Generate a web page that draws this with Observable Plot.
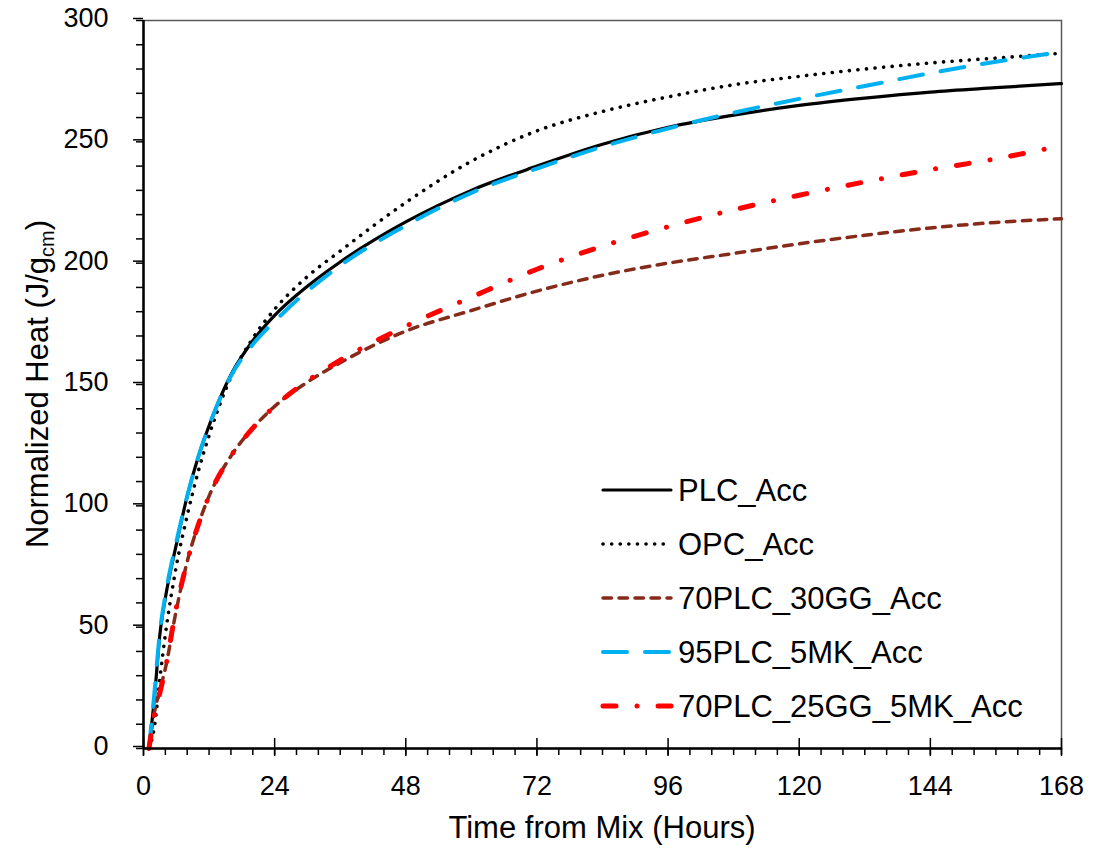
<!DOCTYPE html>
<html><head><meta charset="utf-8">
<script src="https://cdn.jsdelivr.net/npm/d3@7"></script>
<script src="https://cdn.jsdelivr.net/npm/@observablehq/plot@0.6"></script>
<style>
body{margin:0;background:#fff;}
#chart{position:relative;width:1115px;height:849px;}
</style>
</head><body><div id="chart"></div>
<script>
// ---- data ----
const hours    = [1, 2, 3, 4, 6, 8, 10, 12, 16, 20, 24, 30, 36, 48, 60, 72, 84, 96, 108, 120, 132, 144, 156, 168];
const hoursRed = [1, 2, 3, 4, 6, 8, 10, 12, 16, 20, 24, 30, 36, 48, 60, 72, 84, 96, 108, 120, 132, 144, 156, 165];
const plcAcc       = [0, 21, 47, 62, 84, 104, 120, 133, 154, 168, 178.5, 190.5, 200.5, 217, 230, 240, 249, 256, 261, 265, 268, 270.5, 272.3, 274];
const opcAcc       = [0, 9, 29, 47, 75, 96, 114, 129, 153, 169, 181, 194.5, 205, 225, 242, 254.5, 262.5, 268.5, 273.5, 277, 280, 282.5, 284.5, 286.5];
const plc30ggAcc   = [0, 15, 24, 33, 57, 77, 92, 104, 120.5, 132, 141, 151, 159, 172, 180.5, 188.5, 195, 200, 204, 208, 211.5, 214.5, 216.8, 218.3];
const plc5mkAcc    = [0, 23, 48, 63, 85, 104, 120, 133, 153.5, 166.5, 176, 188.5, 199, 215.5, 229, 239, 248, 255.5, 262, 267.7, 273, 278.3, 283, 287];
const plc25gg5mkAcc= [0, 14, 23, 33, 58, 77, 92, 104, 120.5, 132, 141, 151.5, 160, 174, 186, 197.5, 207, 215, 222, 228, 233.5, 238.5, 243, 247];
const seriesNames = ["PLC_Acc", "OPC_Acc", "70PLC_30GG_Acc", "95PLC_5MK_Acc", "70PLC_25GG_5MK_Acc"];
const xMajorTicks = [0, 24, 48, 72, 96, 120, 144, 168];
const yMajorTicks = [0, 50, 100, 150, 200, 250, 300];
const xMinorTicks = d3.range(0, 169, 4);
const yMinorTicks = d3.range(0, 301, 10);

// ---- build table ----
const seriesData = [
  [hours, plcAcc], [hours, opcAcc], [hours, plc30ggAcc], [hours, plc5mkAcc], [hoursRed, plc25gg5mkAcc]
];
const rows = [];
seriesNames.forEach((name, i) => {
  const [hs, vs] = seriesData[i];
  hs.forEach((h, j) => rows.push({series: name, hours: h, value: vs[j]}));
});

const styles = [
  {stroke: "#000000", strokeWidth: 3.2, dash: null},
  {stroke: "#000000", strokeWidth: 3.6, dash: "0.1 8.5"},
  {stroke: "#862A1A", strokeWidth: 3.5, dash: "8.5 7.5"},
  {stroke: "#00B0F0", strokeWidth: 4, dash: "24 18"},
  {stroke: "#FF0000", strokeWidth: 5, dash: "13 21 0.1 21"}
];

const W = 1115, H = 849, mL = 143, mR = 54, mT = 20, mB = 101;
const plotH = H - mT - mB;
const FONT = "'Liberation Sans', Arial, sans-serif";

const lineMarks = seriesNames.map((name, i) => Plot.line(rows.filter(d => d.series === name), {
  x: "hours", y: "value", stroke: styles[i].stroke, strokeWidth: styles[i].strokeWidth,
  strokeDasharray: styles[i].dash, strokeLinecap: "round", strokeLinejoin: "round", curve: "monotone-x"
}));

const svg = Plot.plot({
  width: W, height: H, marginLeft: mL, marginRight: mR, marginTop: mT, marginBottom: mB,
  style: {fontFamily: FONT, color: "black", background: "white", overflow: "visible"},
  x: {domain: [0, 168], label: null},
  y: {domain: [0, 300], label: null},
  marks: [
    Plot.frame({stroke: "#595959", strokeWidth: 1.5}),
    Plot.axisY(yMinorTicks, {anchor: "left", tickSize: 7, strokeWidth: 1.5, tickFormat: () => "", label: null}),
    Plot.axisY(yMajorTicks, {anchor: "left", tickSize: 10, strokeWidth: 1.5, tickPadding: 25, fontSize: 27, dy: -2, label: null}),
    Plot.axisX(xMinorTicks, {anchor: "bottom", tickSize: 7, strokeWidth: 1.5, tickFormat: () => "", label: null}),
    Plot.axisX(xMajorTicks, {anchor: "bottom", tickSize: 8, strokeWidth: 1.5, tickPadding: 19, fontSize: 27, label: null}),
    Plot.tickX(xMajorTicks, {x: d => d, insetTop: plotH - 10, stroke: "black", strokeWidth: 1.5}),
    ...lineMarks,
    Plot.ruleX([0], {stroke: "black", strokeWidth: 2.5}),
    Plot.ruleY([0], {stroke: "black", strokeWidth: 2.5})
  ]
});

const s = d3.select(svg);
// axis titles
s.append("text").attr("x", mL + (W - mL - mR) / 2).attr("y", 838)
  .attr("text-anchor", "middle").attr("font-size", 31).attr("font-family", FONT).attr("fill", "black")
  .text("Time from Mix (Hours)");
const yt = s.append("text").attr("transform", `translate(48,${mT + plotH / 2}) rotate(-90)`)
  .attr("text-anchor", "middle").attr("font-size", 31).attr("font-family", FONT).attr("fill", "black");
yt.append("tspan").text("Normalized Heat (J/g");
yt.append("tspan").attr("font-size", 20).attr("dy", 6).text("cm");
yt.append("tspan").attr("dy", -6).text(")");

// legend
const lg = s.append("g").attr("text-anchor", "start");
seriesNames.forEach((name, i) => {
  const y = 490 + i * 54;
  lg.append("line").attr("x1", 603).attr("x2", 671).attr("y1", y).attr("y2", y)
    .attr("stroke", styles[i].stroke).attr("stroke-width", styles[i].strokeWidth)
    .attr("stroke-dasharray", styles[i].dash).attr("stroke-linecap", "round");
  lg.append("text").attr("x", 678).attr("y", y).attr("dy", "0.35em").attr("text-anchor", "start")
    .attr("font-size", 31).attr("font-family", FONT).attr("fill", "black").text(name);
});

document.getElementById("chart").appendChild(svg);
</script>
</body></html>
